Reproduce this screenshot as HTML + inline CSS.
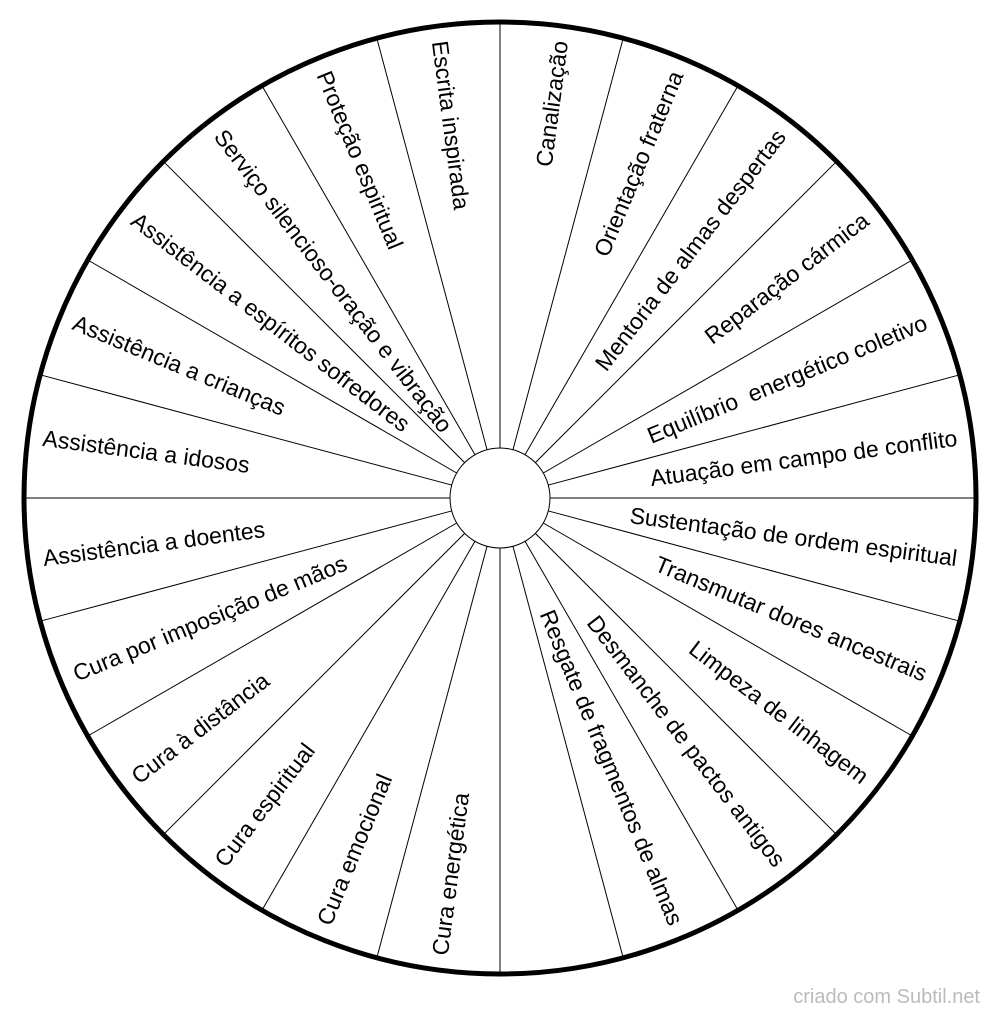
<!DOCTYPE html>
<html><head><meta charset="utf-8"><style>
html,body{margin:0;padding:0;background:#fff;}
svg{display:block;}
text{font-family:"Liberation Sans",Arial,sans-serif;font-size:23px;fill:#000;dominant-baseline:central;}
</style></head><body>
<svg width="1000" height="1016" viewBox="0 0 1000 1016" xmlns="http://www.w3.org/2000/svg">
<rect width="1000" height="1016" fill="#fff"/>
<g transform="translate(500,498)" stroke="#000" stroke-width="1">
<line x1="0" y1="-50" x2="0" y2="-476" transform="rotate(0)"/>
<line x1="0" y1="-50" x2="0" y2="-476" transform="rotate(15)"/>
<line x1="0" y1="-50" x2="0" y2="-476" transform="rotate(30)"/>
<line x1="0" y1="-50" x2="0" y2="-476" transform="rotate(45)"/>
<line x1="0" y1="-50" x2="0" y2="-476" transform="rotate(60)"/>
<line x1="0" y1="-50" x2="0" y2="-476" transform="rotate(75)"/>
<line x1="0" y1="-50" x2="0" y2="-476" transform="rotate(90)"/>
<line x1="0" y1="-50" x2="0" y2="-476" transform="rotate(105)"/>
<line x1="0" y1="-50" x2="0" y2="-476" transform="rotate(120)"/>
<line x1="0" y1="-50" x2="0" y2="-476" transform="rotate(135)"/>
<line x1="0" y1="-50" x2="0" y2="-476" transform="rotate(150)"/>
<line x1="0" y1="-50" x2="0" y2="-476" transform="rotate(165)"/>
<line x1="0" y1="-50" x2="0" y2="-476" transform="rotate(180)"/>
<line x1="0" y1="-50" x2="0" y2="-476" transform="rotate(195)"/>
<line x1="0" y1="-50" x2="0" y2="-476" transform="rotate(210)"/>
<line x1="0" y1="-50" x2="0" y2="-476" transform="rotate(225)"/>
<line x1="0" y1="-50" x2="0" y2="-476" transform="rotate(240)"/>
<line x1="0" y1="-50" x2="0" y2="-476" transform="rotate(255)"/>
<line x1="0" y1="-50" x2="0" y2="-476" transform="rotate(270)"/>
<line x1="0" y1="-50" x2="0" y2="-476" transform="rotate(285)"/>
<line x1="0" y1="-50" x2="0" y2="-476" transform="rotate(300)"/>
<line x1="0" y1="-50" x2="0" y2="-476" transform="rotate(315)"/>
<line x1="0" y1="-50" x2="0" y2="-476" transform="rotate(330)"/>
<line x1="0" y1="-50" x2="0" y2="-476" transform="rotate(345)"/>
<circle cx="0" cy="0" r="50" fill="#fff"/>
<circle cx="0" cy="0" r="476" fill="none" stroke-width="5"/>
</g>
<g transform="translate(500,498)">
<text x="461" text-anchor="end" transform="rotate(-82.5)">Canalização</text>
<text x="461" text-anchor="end" transform="rotate(-67.5)">Orientação fraterna</text>
<text x="461" text-anchor="end" transform="rotate(-52.5)">Mentoria de almas despertas</text>
<text x="461" text-anchor="end" transform="rotate(-37.5)">Reparação cármica</text>
<text x="461" text-anchor="end" transform="rotate(-22.5)" xml:space="preserve">Equilíbrio  energético coletivo</text>
<text x="461" text-anchor="end" transform="rotate(-7.5)">Atuação em campo de conflito</text>
<text x="461" text-anchor="end" transform="rotate(7.5)">Sustentação de ordem espiritual</text>
<text x="461" text-anchor="end" transform="rotate(22.5)">Transmutar dores ancestrais</text>
<text x="461" text-anchor="end" transform="rotate(37.5)">Limpeza de linhagem</text>
<text x="461" text-anchor="end" transform="rotate(52.5)">Desmanche de pactos antigos</text>
<text x="461" text-anchor="end" transform="rotate(67.5)">Resgate de fragmentos de almas</text>
<text x="-461" text-anchor="start" transform="rotate(-82.5)">Cura energética</text>
<text x="-461" text-anchor="start" transform="rotate(-67.5)">Cura emocional</text>
<text x="-461" text-anchor="start" transform="rotate(-52.5)">Cura espiritual</text>
<text x="-461" text-anchor="start" transform="rotate(-37.5)">Cura à distância</text>
<text x="-461" text-anchor="start" transform="rotate(-22.5)">Cura por imposição de mãos</text>
<text x="-461" text-anchor="start" transform="rotate(-7.5)">Assistência a doentes</text>
<text x="-461" text-anchor="start" transform="rotate(7.5)">Assistência a idosos</text>
<text x="-461" text-anchor="start" transform="rotate(22.5)">Assistência a crianças</text>
<text x="-461" text-anchor="start" transform="rotate(37.5)">Assistência a espíritos sofredores</text>
<text x="-461" text-anchor="start" transform="rotate(52.5)">Serviço silencioso-oração e vibração</text>
<text x="-461" text-anchor="start" transform="rotate(67.5)">Proteção espiritual</text>
<text x="-461" text-anchor="start" transform="rotate(82.5)">Escrita inspirada</text>
</g>
<text x="980" y="997" text-anchor="end" style="font-size:20px;fill:#bbb;">criado com Subtil.net</text>
</svg>
</body></html>
